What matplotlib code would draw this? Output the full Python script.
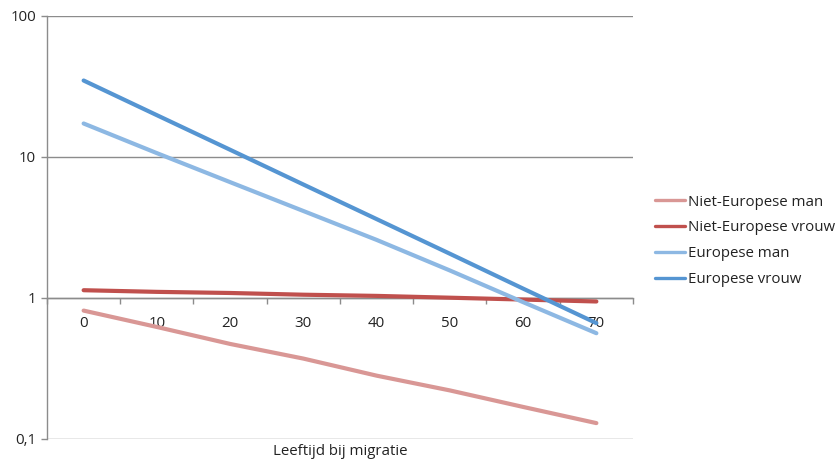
import matplotlib
matplotlib.use("Agg")
import matplotlib.pyplot as plt
from matplotlib.ticker import FixedLocator, FuncFormatter

plt.rcParams['font.family'] = ['Open Sans', 'DejaVu Sans']

ages = [0, 10, 20, 30, 40, 50, 60, 70]
niet_eu_man = [0.81, 0.62, 0.47, 0.37, 0.28, 0.22, 0.168, 0.129]
niet_eu_vrouw = [1.13, 1.10, 1.08, 1.05, 1.03, 1.00, 0.97, 0.94]
eu_man = [17.2, 10.6, 6.6, 4.12, 2.57, 1.56, 0.93, 0.56]
eu_vrouw = [34.7, 19.7, 11.2, 6.35, 3.61, 2.05, 1.16, 0.66]
series_names = ["Niet-Europese man", "Niet-Europese vrouw", "Europese man", "Europese vrouw"]
y_ticks = [0.1, 1, 10, 100]
x_label = "Leeftijd bij migratie"

colors = ["#D99795", "#C0504D", "#8DB8E3", "#5595D2"]
gray = "#8C8C8C"

fig = plt.figure(figsize=(8.37, 4.59), dpi=100)
ax = fig.add_axes([47/837, (459-438.7)/459, (633-47)/837, (438.7-15.7)/459])

for vals, name, c in zip([niet_eu_man, niet_eu_vrouw, eu_man, eu_vrouw], series_names, colors):
    ax.plot(ages, vals, color=c, lw=3.0, solid_capstyle='round', label=name, zorder=3)

ax.set_yscale('log')
ax.set_ylim(0.1, 100)
ax.set_xlim(-5, 75)
ax.yaxis.set_major_locator(FixedLocator(y_ticks))
ax.yaxis.set_minor_locator(FixedLocator([]))
ax.yaxis.set_major_formatter(FuncFormatter(lambda v, p: ("%g" % v).replace('.', ',')))
ax.grid(axis='y', color=gray, lw=1.0, zorder=1)
ax.set_axisbelow(True)

for s in ['top', 'right']:
    ax.spines[s].set_visible(False)
ax.spines['left'].set_color(gray)
ax.spines['left'].set_linewidth(1.0)
ax.spines['bottom'].set_position(('data', 1))
ax.spines['bottom'].set_color(gray)
ax.spines['bottom'].set_linewidth(1.0)

ax.xaxis.set_major_locator(FixedLocator(ages))
ax.xaxis.set_minor_locator(FixedLocator(list(range(-5, 80, 10))))
ax.tick_params(axis='x', which='major', length=0, pad=13, labelsize=10.8, labelcolor='#222222')
ax.tick_params(axis='x', which='minor', length=4, color=gray, width=1, direction='out')
ax.tick_params(axis='y', which='major', length=4, color=gray, width=1, labelsize=10.8,
               labelcolor='#222222', pad=4)

ax.text(0.5, -0.012, x_label, transform=ax.transAxes, ha='center', va='top',
        fontsize=10.8, color='#222222')

leg = ax.legend(loc='center left', bbox_to_anchor=(1.028, 0.468), frameon=False,
                fontsize=10.8, handlelength=2.0, handletextpad=0.15, labelspacing=0.72,
                borderaxespad=0)
for line in leg.get_lines():
    line.set_linewidth(2.4)
for t in leg.get_texts():
    t.set_color('#222222')

fig.savefig("out.png", dpi=100)
